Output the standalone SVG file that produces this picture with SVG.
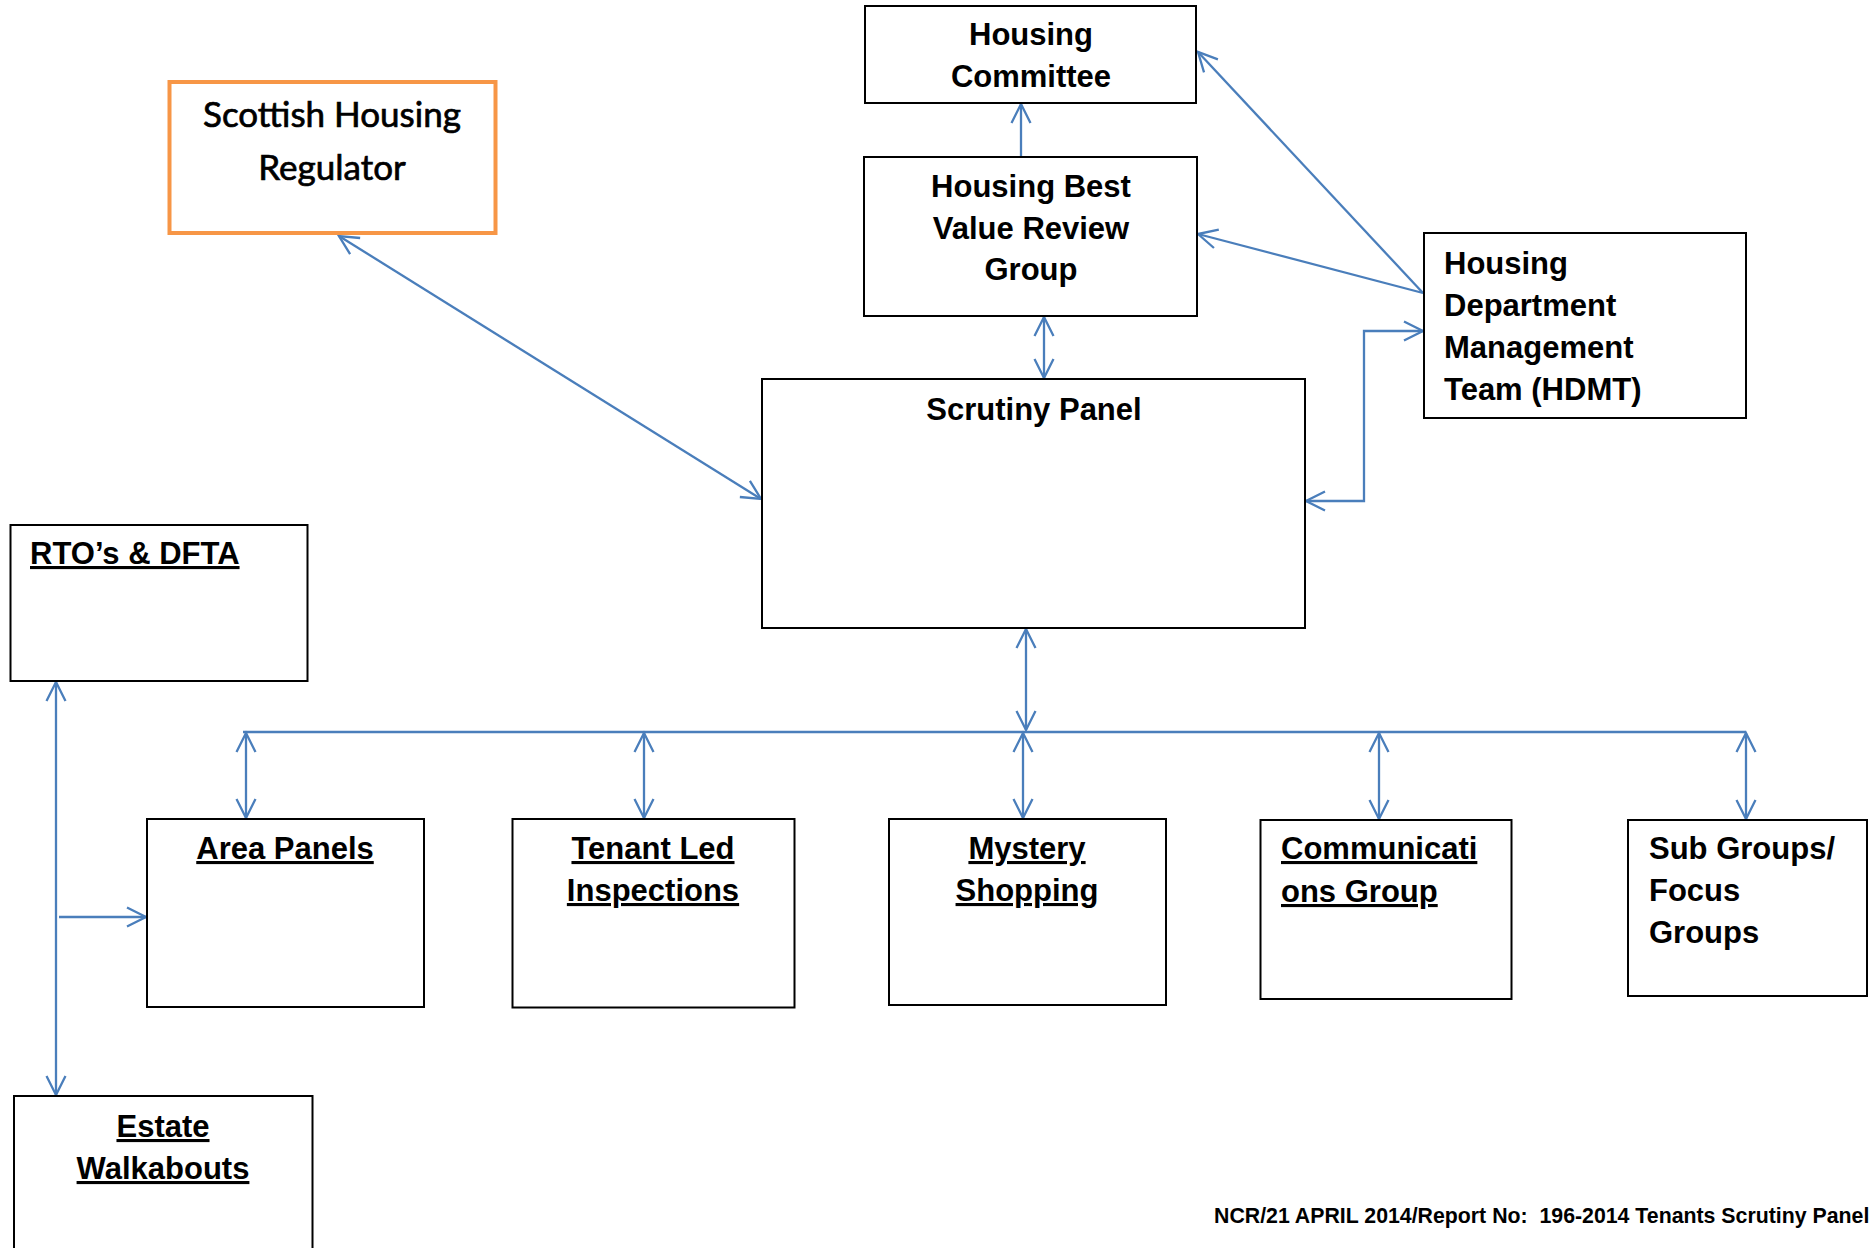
<svg xmlns="http://www.w3.org/2000/svg" width="1870" height="1248" viewBox="0 0 1870 1248">
<style>
.box{fill:#fff;stroke:#000;stroke-width:2}
.reg{fill:#fff;stroke:#F79646;stroke-width:4}
.t{font-family:"Liberation Sans",Arial,sans-serif;font-weight:bold;font-size:31px;fill:#000}
.c{text-anchor:middle}
.u{text-decoration:underline}
.cal{font-family:Lato,"Open Sans",sans-serif;font-size:35px;fill:#000;stroke:#000;stroke-width:0.7;text-anchor:middle}
.foot{font-family:"Liberation Sans",Arial,sans-serif;font-weight:bold;font-size:21.3px;fill:#000;white-space:pre}
.con{fill:none;stroke:#4A7EBB;stroke-width:2.3}
</style>
<defs>
<marker id="arr" markerUnits="userSpaceOnUse" markerWidth="30" markerHeight="30" viewBox="-24 -15 30 30" refX="0" refY="0" orient="auto-start-reverse" overflow="visible">
<path d="M-19,-9.5 L0,0 L-19,9.5" fill="none" stroke="#4A7EBB" stroke-width="2.3"/>
</marker>
</defs>
<rect width="1870" height="1248" fill="#fff"/>

<g id="connectors">
<line class="con" x1="1021" y1="157" x2="1021" y2="104" marker-end="url(#arr)"/>
<line class="con" x1="1044" y1="317" x2="1044" y2="378" marker-start="url(#arr)" marker-end="url(#arr)"/>
<line class="con" x1="1423" y1="293" x2="1198" y2="52" marker-end="url(#arr)"/>
<line class="con" x1="1423" y1="293" x2="1198" y2="234" marker-end="url(#arr)"/>
<path class="con" d="M1306,501 H1364 V331 H1423" marker-start="url(#arr)" marker-end="url(#arr)"/>
<line class="con" x1="339" y1="236" x2="761" y2="499" marker-start="url(#arr)" marker-end="url(#arr)"/>
<line class="con" x1="1026" y1="629" x2="1026" y2="730" marker-start="url(#arr)" marker-end="url(#arr)"/>
<line class="con" x1="243" y1="732" x2="1746" y2="732"/>
<line class="con" x1="246" y1="733" x2="246" y2="818" marker-start="url(#arr)" marker-end="url(#arr)"/>
<line class="con" x1="644" y1="733" x2="644" y2="818" marker-start="url(#arr)" marker-end="url(#arr)"/>
<line class="con" x1="1023" y1="733" x2="1023" y2="818" marker-start="url(#arr)" marker-end="url(#arr)"/>
<line class="con" x1="1379" y1="733" x2="1379" y2="819" marker-start="url(#arr)" marker-end="url(#arr)"/>
<line class="con" x1="1746" y1="733" x2="1746" y2="819" marker-start="url(#arr)" marker-end="url(#arr)"/>
<line class="con" x1="56" y1="682" x2="56" y2="1095" marker-start="url(#arr)" marker-end="url(#arr)"/>
<line class="con" x1="59" y1="917" x2="146" y2="917" marker-end="url(#arr)"/>
</g>

<g id="housing-committee">
<rect class="box" x="865" y="6" width="331" height="97"/>
<text class="t c" x="1031" y="45">Housing</text>
<text class="t c" x="1031" y="87">Committee</text>
</g>

<g id="best-value-group">
<rect class="box" x="864" y="157" width="333" height="159"/>
<text class="t c" x="1031" y="197">Housing Best</text>
<text class="t c" x="1031" y="239">Value Review</text>
<text class="t c" x="1031" y="280">Group</text>
</g>

<g id="scottish-housing-regulator">
<rect class="reg" x="169.5" y="82" width="326" height="151"/>
<text class="cal" x="332" y="127">Scottish Housing</text>
<text class="cal" x="332" y="180">Regulator</text>
</g>

<g id="hdmt">
<rect class="box" x="1424" y="233" width="322" height="185"/>
<text class="t" x="1444" y="274">Housing</text>
<text class="t" x="1444" y="316">Department</text>
<text class="t" x="1444" y="358">Management</text>
<text class="t" x="1444" y="400">Team (HDMT)</text>
</g>

<g id="scrutiny-panel">
<rect class="box" x="762" y="379" width="543" height="249"/>
<text class="t c" x="1034" y="420">Scrutiny Panel</text>
</g>

<g id="rtos-dfta">
<rect class="box" x="10.5" y="525" width="297" height="156"/>
<text class="t u" x="30" y="564">RTO’s &amp; DFTA</text>
</g>

<g id="area-panels">
<rect class="box" x="147" y="819" width="277" height="188"/>
<text class="t c u" x="285" y="859">Area Panels</text>
</g>

<g id="tenant-led-inspections">
<rect class="box" x="512.5" y="819" width="282" height="188.5"/>
<text class="t c u" x="653" y="859">Tenant Led</text>
<text class="t c u" x="653" y="901">Inspections</text>
</g>

<g id="mystery-shopping">
<rect class="box" x="889" y="819" width="277" height="186"/>
<text class="t c u" x="1027" y="859">Mystery</text>
<text class="t c u" x="1027" y="901">Shopping</text>
</g>

<g id="communications-group">
<rect class="box" x="1260.5" y="820" width="251" height="179"/>
<text class="t u" x="1281" y="859">Communicati</text>
<text class="t u" x="1281" y="902">ons Group</text>
</g>

<g id="sub-groups">
<rect class="box" x="1628" y="820" width="239" height="176"/>
<text class="t" x="1649" y="859">Sub Groups/</text>
<text class="t" x="1649" y="901">Focus</text>
<text class="t" x="1649" y="943">Groups</text>
</g>

<g id="estate-walkabouts">
<rect class="box" x="14" y="1096" width="298.5" height="170"/>
<text class="t c u" x="163" y="1137">Estate</text>
<text class="t c u" x="163" y="1179">Walkabouts</text>
</g>

<text class="foot" x="1214" y="1223" xml:space="preserve">NCR/21 APRIL 2014/Report No:  196-2014 Tenants Scrutiny Panel</text>
</svg>
